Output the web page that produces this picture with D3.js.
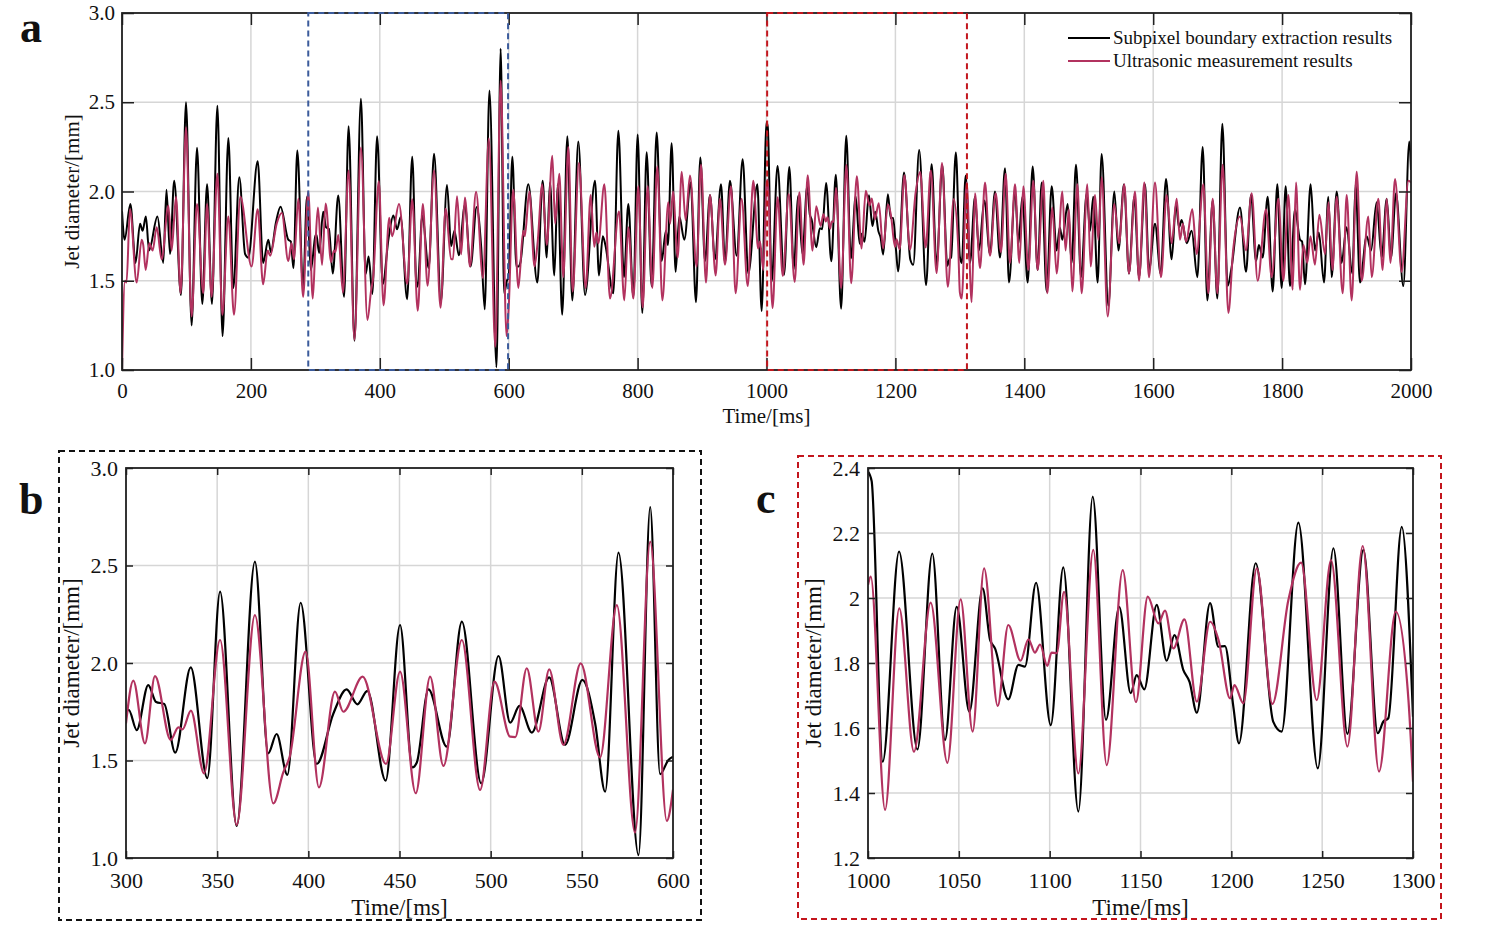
<!DOCTYPE html>
<html><head><meta charset="utf-8">
<script src="https://cdn.jsdelivr.net/npm/d3@7"></script>
<style>
body{margin:0;background:#fff}
svg{display:block}
text{font-family:"Liberation Serif","Times New Roman",serif;fill:#111}
</style>
</head><body>
<svg id="chart" width="1500" height="931"></svg>
<script>
// ---------------- DATA ----------------
const seriesNames = ["Subpixel boundary extraction results", "Ultrasonic measurement results"];

// Subpixel boundary extraction (black) [time ms, diameter mm]
const subpixel0_300 = [[0,1.89],[4,1.73],[13,1.93],[21,1.60],[28,1.82],[32,1.78],[37,1.86],[42,1.67],[55,1.86],[64,1.60],[69,2.01],[74.5,1.65],[81,2.06],[91.5,1.42],[99.3,2.50],[108,1.25],[116.4,2.245],[124.6,1.37],[132,2.04],[139.6,1.37],[148,2.48],[156,1.19],[165,2.30],[172.7,1.46],[182,2.08],[191,1.65],[196,1.63],[210.5,2.17],[219,1.60],[227,1.73],[231,1.66],[239,1.83],[246,1.915],[258,1.73],[262,1.72],[266,1.57],[272,2.23],[281,1.46],[287,1.97],[293,1.56]];
const subpixel300_600 = [[300,1.75],[301.5,1.76],[305.9,1.656],[312.2,1.887],[316.5,1.80],[321,1.79],[327,1.54],[335.5,1.978],[344.6,1.41],[351.6,2.366],[360.7,1.164],[370.7,2.52],[378,1.537],[382.6,1.636],[388.5,1.426],[395.8,2.309],[404.6,1.482],[413.7,1.74],[421,1.865],[426.9,1.788],[432.4,1.857],[442.4,1.397],[450.3,2.195],[457.1,1.465],[459.5,1.49],[465.9,1.865],[475.9,1.571],[484.2,2.212],[494.8,1.383],[504.3,2.036],[510.7,1.694],[515.8,1.78],[522.6,1.643],[532.1,1.926],[540.8,1.58],[550.3,1.913],[557.3,1.69],[562.8,1.34],[570.1,2.566],[581.1,1.015],[587.5,2.80],[592.9,1.43],[597.5,1.503],[600,1.52]];
const subpixel600_1000 = [[605.6,2.195],[612,1.58],[615,1.58],[618,1.60],[630.4,2.04],[644.4,1.49],[652.7,2.06],[659,1.63],[664,2.05],[670.8,1.53],[676,2.04],[683,1.31],[691,2.31],[698.7,1.39],[708,2.28],[718.4,1.42],[733.9,2.06],[740.1,1.53],[746,1.75],[750,1.70],[762.3,1.43],[770.1,2.34],[778.9,1.52],[785.6,1.93],[793.4,1.41],[800.1,2.32],[807.3,1.32],[814,2.22],[821.8,1.47],[829.6,2.33],[837.3,1.61],[844,1.78],[847,1.70],[852.8,2.27],[859,1.55],[864.7,1.86],[872.5,1.73],[882.3,2.05],[890.6,1.38],[897.3,2.19],[904.6,1.61],[912.3,1.98],[920,1.62],[929.4,2.04],[935.6,1.60],[943.3,2.06],[953.7,1.64],[963,2.18],[971.8,1.54],[985.8,2.04],[992.5,1.33]];
const subpixel1000_1300 = [[1000,2.389],[1002,2.36],[1008.1,1.496],[1017.1,2.143],[1027.2,1.534],[1035.4,2.137],[1042.4,1.563],[1048.8,1.973],[1055.8,1.65],[1063.1,2.03],[1067.2,1.871],[1069.9,1.845],[1077.2,1.688],[1082.8,1.794],[1086.4,1.789],[1092.5,2.047],[1100.6,1.609],[1107.5,2.094],[1115.8,1.343],[1123.7,2.312],[1131,1.625],[1138.3,1.973],[1144.6,1.707],[1147.9,1.763],[1152.1,1.719],[1158.9,1.979],[1164.4,1.807],[1168.7,1.886],[1173.6,1.778],[1177,1.742],[1181,1.647],[1188.3,1.984],[1192.9,1.85],[1196.5,1.852],[1201.1,1.666],[1204.2,1.553],[1213.4,2.107],[1223.1,1.619],[1227.7,1.589],[1236.9,2.232],[1247.6,1.476],[1256.2,2.153],[1263.9,1.582],[1272.7,2.148],[1280.6,1.584],[1283.7,1.62],[1286.4,1.63],[1293.8,2.219],[1300,1.635]];
const subpixel1300_2000 = [[1303,1.60],[1309,2.09],[1315.7,1.60],[1323.5,1.97],[1329.7,1.67],[1338,1.95],[1346.8,1.65],[1354.5,2.0],[1362.3,1.63],[1370,2.13],[1376.3,1.49],[1385.6,2.0],[1391,1.71],[1397,1.97],[1405.2,1.49],[1413,2.14],[1420.7,1.56],[1427,2.05],[1434.7,1.44],[1442.5,2.03],[1450.2,1.67],[1455,1.80],[1459,1.73],[1467.3,1.93],[1473.5,1.60],[1480.2,2.15],[1488,1.52],[1496.8,1.99],[1502,1.78],[1507,1.97],[1513.8,1.49],[1520,2.21],[1530.4,1.36],[1539.7,2.0],[1546,1.67],[1554.7,2.04],[1562.4,1.54],[1570.7,1.97],[1578,1.52],[1587.3,2.04],[1593.5,1.56],[1602.8,1.82],[1611.6,1.54],[1619.9,2.07],[1628.6,1.62],[1635.4,1.93],[1640,1.80],[1644.2,1.84],[1652,1.71],[1659.7,1.78],[1668.5,1.52],[1676.8,2.25],[1684,1.39],[1692.3,1.95],[1699.5,1.40],[1707.3,2.38],[1715.5,1.47],[1721,1.56],[1734.7,1.91],[1744,1.55],[1751.8,1.98],[1759.5,1.61],[1764,1.70],[1769.8,1.63],[1777.6,1.97],[1785.4,1.44],[1792.6,2.04],[1799.3,1.46],[1805.5,2.03],[1812.3,1.47],[1820,1.90],[1827.8,1.73],[1831,1.72],[1835.5,1.48],[1844.3,2.04],[1851,1.67],[1857,1.77],[1865,1.49],[1871.7,1.97],[1876.9,1.52],[1884.7,2.0],[1892.4,1.60],[1900,1.80],[1909,1.54],[1914,2.04],[1920.9,1.49],[1931.2,1.75],[1938,1.67],[1946.7,1.94],[1954.5,1.63],[1962.3,1.96],[1969,1.63],[1976.7,1.99],[1988.1,1.47],[1997.4,2.28],[2000,2.12]];

// Ultrasonic measurement (pink) [time ms, diameter mm]
const ultrasonic0_300 = [[0,1.0],[4.6,1.50],[7,1.49],[12.4,1.90],[22.8,1.49],[30.5,1.73],[33,1.70],[36.7,1.56],[42.4,1.71],[47.6,1.67],[53.8,1.80],[61.5,1.62],[72,1.92],[77,1.67],[83.8,1.97],[91,1.43],[99.3,2.36],[108,1.30],[116.4,1.93],[126,1.43],[132,1.93],[139,1.41],[148,2.10],[155.7,1.31],[165,1.86],[173.8,1.31],[183.6,1.97],[201,1.58],[210.5,1.90],[219,1.48],[226,1.67],[230,1.64],[240,1.82],[248,1.88],[258,1.61],[263,1.71],[267,1.62],[273.6,1.96],[281,1.41],[289,2.00],[296,1.40]];
const ultrasonic300_600 = [[300,1.69],[304,1.91],[310.4,1.588],[315.9,1.933],[324.5,1.605],[328.7,1.67],[331,1.66],[335.6,1.756],[342.8,1.434],[351.6,2.118],[360.7,1.17],[370.7,2.246],[380.8,1.28],[386.3,1.44],[389.8,1.52],[398.5,2.058],[405.8,1.362],[414.6,1.853],[419.2,1.75],[429.8,1.93],[442.6,1.482],[450.3,1.956],[458.9,1.332],[466.8,1.93],[474.1,1.472],[484.2,2.118],[494.2,1.349],[502.1,1.904],[510.7,1.622],[513.5,1.62],[519.8,1.973],[526.2,1.648],[532.1,1.967],[539.9,1.58],[549.4,1.998],[560,1.516],[569.2,2.297],[579.2,1.13],[587.5,2.622],[596.6,1.19],[600,1.35]];
const ultrasonic600_1000 = [[607,2.01],[615,1.46],[622.5,1.78],[625,1.75],[632,2.00],[640,1.58],[645,1.72],[652,2.04],[659,1.70],[667.7,2.20],[672,1.82],[678.5,2.10],[684.7,1.52],[692.5,2.25],[699.2,1.44],[709,2.16],[719.4,1.46],[727.2,1.98],[732.8,1.69],[736,1.77],[739,1.71],[748.4,2.04],[757.2,1.40],[771.1,1.89],[779.4,1.39],[785.6,1.80],[793.4,1.40],[801.1,2.03],[807.8,1.35],[815.6,2.03],[822.8,1.46],[830.6,2.14],[838.4,1.39],[847.7,1.94],[850.5,1.82],[855,2.00],[862.2,1.63],[868.4,2.11],[874.5,1.84],[881.3,2.09],[891.6,1.58],[898.4,2.15],[906.1,1.49],[912.3,1.98],[921.1,1.53],[927.8,1.96],[935.6,1.59],[944.9,2.03],[952.1,1.43],[961.4,1.96],[970.8,1.47],[979.5,2.06],[987,1.68],[990,1.72],[995,1.56]];
const ultrasonic1000_1300 = [[1000,2.04],[1001.5,2.066],[1009.4,1.348],[1017.2,1.968],[1025.3,1.527],[1034.5,1.986],[1043.7,1.493],[1051,1.996],[1057.6,1.589],[1063.9,2.091],[1071.4,1.668],[1077.2,1.917],[1084,1.807],[1088.3,1.873],[1091.9,1.832],[1094.7,1.857],[1098.7,1.791],[1101,1.832],[1103.9,1.83],[1107.9,2.019],[1115.8,1.46],[1124,2.148],[1131.4,1.486],[1140.2,2.086],[1147.5,1.68],[1154,2.004],[1159.8,1.922],[1163.5,1.961],[1168.1,1.845],[1174.2,1.934],[1181,1.681],[1188.3,1.927],[1193,1.87],[1199.3,1.691],[1201.7,1.732],[1206.6,1.676],[1214,2.091],[1222.6,1.674],[1231.4,1.994],[1238.4,2.109],[1247,1.686],[1254.9,2.117],[1263.9,1.543],[1272.3,2.16],[1281.3,1.466],[1290.5,1.958],[1297.5,1.686],[1300,1.435]];
const ultrasonic1300_2000 = [[1302.8,1.40],[1310.6,2.05],[1318.3,1.38],[1323.5,1.99],[1331.3,1.57],[1339,2.05],[1346.8,1.64],[1355.6,1.99],[1363.8,1.66],[1371.1,2.10],[1377.8,1.60],[1385.6,2.04],[1392.3,1.60],[1398.5,2.03],[1406.3,1.56],[1414,2.06],[1420.7,1.56],[1429.5,2.06],[1435.7,1.43],[1443.5,1.91],[1450.2,1.54],[1459,2.0],[1464,1.67],[1469.3,1.90],[1474.5,1.44],[1482.3,2.04],[1489,1.43],[1497.8,2.04],[1503,1.58],[1509.7,1.98],[1514.9,1.73],[1520,2.08],[1529.4,1.30],[1539.7,1.93],[1546.9,1.71],[1555.2,2.04],[1562.4,1.54],[1571.8,2.0],[1578,1.50],[1586.2,2.05],[1593.5,1.52],[1602.8,2.05],[1612.1,1.52],[1620.9,1.98],[1628.6,1.71],[1636.4,1.96],[1641.6,1.73],[1646,1.82],[1651,1.72],[1660.7,1.90],[1667.4,1.65],[1677.8,2.04],[1685.5,1.43],[1692.3,1.96],[1699.5,1.43],[1707.8,2.15],[1716.6,1.32],[1724,1.67],[1734.7,1.86],[1744,1.67],[1752.8,1.99],[1762.1,1.50],[1775,1.90],[1783.8,1.52],[1794.2,1.96],[1801.9,1.50],[1809.7,1.98],[1816.4,1.45],[1821.6,2.05],[1827.8,1.45],[1833,1.70],[1839.1,1.60],[1844,1.75],[1851,1.59],[1857.8,1.87],[1866.6,1.65],[1872,1.94],[1878,1.56],[1884.7,1.97],[1894,1.43],[1900.2,1.98],[1908,1.39],[1915.7,2.11],[1923.5,1.50],[1933.8,1.86],[1939,1.52],[1949.3,1.96],[1956,1.56],[1962.3,1.96],[1968,1.60],[1975.2,2.07],[1985.5,1.55],[1995.9,2.06],[2000,2.05]];

// Ticks
const xTicksA = [0,200,400,600,800,1000,1200,1400,1600,1800,2000];
const yTicksA = [1.0,1.5,2.0,2.5,3.0];
const yLabelsA = ["1.0","1.5","2.0","2.5","3.0"];
const xTicksB = [300,350,400,450,500,550,600];
const yTicksB = [1.0,1.5,2.0,2.5,3.0];
const yLabelsB = ["1.0","1.5","2.0","2.5","3.0"];
const xTicksC = [1000,1050,1100,1150,1200,1250,1300];
const yTicksC = [1.2,1.4,1.6,1.8,2.0,2.2,2.4];
const yLabelsC = ["1.2","1.4","1.6","1.8","2","2.2","2.4"];
const zoomWindowB = [289,599];
const zoomWindowC = [1001,1311];

// --------------- DRAW ----------------
const BLACK = "#000000", PINK = "#b2325f", AXIS = "#1f1f1f", GRID = "#d6d6d6";
const svg = d3.select("#chart");

function panel(o){
  const x = d3.scaleLinear().domain(o.xDomain).range([o.x0,o.x1]);
  const y = d3.scaleLinear().domain(o.yDomain).range([o.y1,o.y0]);
  const g = svg.append("g");
  g.append("g").selectAll("line").data(o.xTicks.filter(t=>t>o.xDomain[0]&&t<o.xDomain[1])).join("line")
    .attr("x1",d=>x(d)).attr("x2",d=>x(d)).attr("y1",o.y0).attr("y2",o.y1)
    .attr("stroke",GRID).attr("stroke-width",1.5);
  g.append("g").selectAll("line").data(o.yTicks.filter(t=>t>o.yDomain[0]&&t<o.yDomain[1])).join("line")
    .attr("y1",d=>y(d)).attr("y2",d=>y(d)).attr("x1",o.x0).attr("x2",o.x1)
    .attr("stroke",GRID).attr("stroke-width",1.5);
  const cid = "clip"+o.id;
  svg.append("defs").append("clipPath").attr("id",cid).append("rect")
    .attr("x",o.x0).attr("y",o.y0).attr("width",o.x1-o.x0).attr("height",o.y1-o.y0);
  const line = d3.line().x(d=>x(d[0])).y(d=>y(d[1])).curve(d3.curveMonotoneX);
  const lg = g.append("g").attr("clip-path",`url(#${cid})`);
  lg.append("path").datum(o.black).attr("d",line).attr("fill","none")
    .attr("stroke",BLACK).attr("stroke-width",o.lw).attr("stroke-linejoin","round");
  lg.append("path").datum(o.pink).attr("d",line).attr("fill","none")
    .attr("stroke",PINK).attr("stroke-width",o.lw).attr("stroke-linejoin","round");
  const fs = o.fs;
  const ab = g.append("g").attr("transform",`translate(0,${o.y1})`)
    .call(d3.axisBottom(x).tickValues(o.xTicks).tickSize(-o.tl).tickPadding(o.xpad).tickFormat(d3.format("d")));
  const at = g.append("g").attr("transform",`translate(0,${o.y0})`)
    .call(d3.axisTop(x).tickValues(o.xTicks).tickSize(-o.tl).tickFormat(""));
  const al = g.append("g").attr("transform",`translate(${o.x0},0)`)
    .call(d3.axisLeft(y).tickValues(o.yTicks).tickSize(-o.tl).tickPadding(o.ypad).tickFormat((d,i)=>o.yLabels[i]));
  const ar = g.append("g").attr("transform",`translate(${o.x1},0)`)
    .call(d3.axisRight(y).tickValues(o.yTicks).tickSize(-o.tl).tickFormat(""));
  [ab,at,al,ar].forEach(a=>{
    a.select(".domain").remove();
    a.selectAll(".tick line").attr("stroke",AXIS).attr("stroke-width",1.5);
    a.selectAll("text").attr("font-size",fs).attr("fill","#111")
      .style("font-family",'"Liberation Serif","Times New Roman",serif');
  });
  g.append("rect").attr("x",o.x0).attr("y",o.y0).attr("width",o.x1-o.x0).attr("height",o.y1-o.y0)
    .attr("fill","none").attr("stroke",AXIS).attr("stroke-width",1.8);
  g.append("text").attr("x",(o.x0+o.x1)/2).attr("y",o.xlabY).attr("text-anchor","middle")
    .attr("font-size",o.lfs).text("Time/[ms]");
  g.append("text").attr("transform",`translate(${o.ylabX},${(o.y0+o.y1)/2}) rotate(-90)`)
    .attr("text-anchor","middle").attr("font-size",o.lfs).text("Jet diameter/[mm]");
  return {x,y,g};
}

const blackA = [].concat(subpixel0_300,subpixel300_600,subpixel600_1000,subpixel1000_1300,subpixel1300_2000);
const pinkA = [].concat(ultrasonic0_300,ultrasonic300_600,ultrasonic600_1000,ultrasonic1000_1300,ultrasonic1300_2000);

const A = panel({id:"a",x0:122,x1:1411,y0:13,y1:370,xDomain:[0,2000],yDomain:[1,3],
  xTicks:xTicksA,yTicks:yTicksA,yLabels:yLabelsA,tl:12,fs:21,lfs:21,xpad:13,ypad:7,
  xlabY:423,ylabX:79,black:blackA,pink:pinkA,lw:2});

A.g.append("rect").attr("x",A.x(zoomWindowB[0])).attr("y",A.y(3)).attr("width",A.x(zoomWindowB[1])-A.x(zoomWindowB[0]))
  .attr("height",A.y(1)-A.y(3)).attr("fill","none").attr("stroke","#3b5b9b").attr("stroke-width",2).attr("stroke-dasharray","6,4");
A.g.append("rect").attr("x",A.x(zoomWindowC[0])).attr("y",A.y(3)).attr("width",A.x(zoomWindowC[1])-A.x(zoomWindowC[0]))
  .attr("height",A.y(1)-A.y(3)).attr("fill","none").attr("stroke","#c3161d").attr("stroke-width",2).attr("stroke-dasharray","6,4");

const leg = svg.append("g");
[[BLACK,38],[PINK,61]].forEach((c,i)=>{
  leg.append("line").attr("x1",1068).attr("x2",1110).attr("y1",c[1]).attr("y2",c[1]).attr("stroke",c[0]).attr("stroke-width",1.8);
  leg.append("text").attr("x",1113).attr("y",c[1]+6).attr("font-size",19).text(seriesNames[i]);
});

panel({id:"b",x0:126,x1:673,y0:468,y1:858,xDomain:[300,600],yDomain:[1,3],
  xTicks:xTicksB,yTicks:yTicksB,yLabels:yLabelsB,tl:7,fs:22,lfs:23,xpad:14,ypad:8,
  xlabY:915,ylabX:79,black:subpixel300_600,pink:ultrasonic300_600,lw:2.2});
panel({id:"c",x0:868,x1:1413,y0:468,y1:858,xDomain:[1000,1300],yDomain:[1.2,2.4],
  xTicks:xTicksC,yTicks:yTicksC,yLabels:yLabelsC,tl:7,fs:22,lfs:23,xpad:14,ypad:8,
  xlabY:915,ylabX:821,black:subpixel1000_1300,pink:ultrasonic1000_1300,lw:2.2});

svg.append("rect").attr("x",59).attr("y",451).attr("width",642).attr("height",469)
  .attr("fill","none").attr("stroke","#111").attr("stroke-width",2).attr("stroke-dasharray","6,4");
svg.append("rect").attr("x",798).attr("y",456).attr("width",643).attr("height",463)
  .attr("fill","none").attr("stroke","#c3161d").attr("stroke-width",2).attr("stroke-dasharray","6,4");

[["a",20,42],["b",19,514],["c",756,513]].forEach(p=>{
  svg.append("text").attr("x",p[1]).attr("y",p[2]).attr("font-size",44).attr("font-weight","bold").text(p[0]);
});
</script>
</body></html>
